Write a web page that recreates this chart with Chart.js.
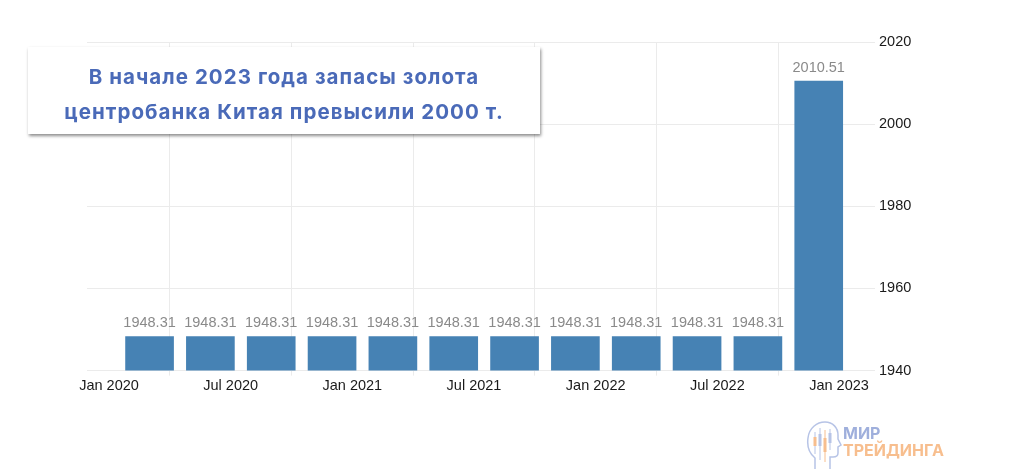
<!DOCTYPE html>
<html lang="ru">
<head>
<meta charset="utf-8">
<title>Запасы золота ЦБ Китая</title>
<script src="https://cdn.jsdelivr.net/npm/chart.js@4/dist/chart.umd.min.js"></script>
<style>
  html, body { margin: 0; padding: 0; background: #fff; }
  #wrap { position: relative; width: 1024px; height: 473px; overflow: hidden; }
  #c { position: absolute; left: 0; top: 0; }
  #note {
    position: absolute; left: 28px; top: 47px; width: 512px; height: 87px;
    box-sizing: border-box; padding-top: 7px;
    background: #fff; box-shadow: 1px 2px 3px rgba(0,0,0,0.45);
    color: #4a6ab8; font-family: Inter, "Open Sans", sans-serif; font-weight: 700;
    font-size: 20.5px; letter-spacing: 1.05px; line-height: 35px; text-align: center;
    display: flex; flex-direction: column; justify-content: center;
  }
  #logo { position: absolute; left: 806px; top: 420px; width: 170px; height: 50px; opacity: 0.75; }
  #logo .t1, #logo .t2 { position: absolute; left: 37px; font-family: Inter, "Open Sans", sans-serif; font-weight: 700; font-size: 16px; line-height: 16px; }
  #logo .t1 { top: 5px; color: #7f95d0; }
  #logo .t2 { top: 22px; color: #f5a868; }
</style>
</head>
<body>
<div id="wrap">
  <canvas id="c" width="1024" height="473"></canvas>
  <div id="note"><div>В начале 2023 года запасы золота</div><div>центробанка Китая превысили 2000 т.</div></div>
  <div id="logo">
    <svg width="36" height="50" viewBox="0 0 36 50" style="position:absolute;left:0;top:0">
      <path d="M9 49 L9 38 C3 33 1 25 2 18 C3 8 11 2 19 2 C27 2 32 8 32 15 L32 19 L35 25 L32 27 L32 33 C32 36 30 37 27 37 L24 37 L24 49" fill="none" stroke="#9fb0de" stroke-width="1.5"/>
      <g stroke-width="1">
        <line x1="9" y1="12" x2="9" y2="34" stroke="#9fb0de"/><rect x="7.5" y="17" width="3" height="9" fill="#f5a868"/>
        <line x1="14" y1="8" x2="14" y2="40" stroke="#9fb0de"/><rect x="12.5" y="14" width="3" height="12" fill="#9fb0de"/>
        <line x1="19" y1="10" x2="19" y2="42" stroke="#f5a868"/><rect x="17.5" y="18" width="3" height="14" fill="#f5a868"/>
        <line x1="24" y1="9" x2="24" y2="30" stroke="#9fb0de"/><rect x="22.5" y="13" width="3" height="10" fill="#9fb0de"/>
      </g>
    </svg>
    <div class="t1">МИР</div>
    <div class="t2">ТРЕЙДИНГА</div>
  </div>
</div>
<script>
// Data (month index counted from Jan 2020 = 0)
const BAR_MONTHS = [2, 5, 8, 11, 14, 17, 20, 23, 26, 29, 32, 35];
const RESERVES_T = [1948.31, 1948.31, 1948.31, 1948.31, 1948.31, 1948.31, 1948.31, 1948.31, 1948.31, 1948.31, 1948.31, 2010.51];
const TICK_MONTHS = [0, 6, 12, 18, 24, 30, 36];
const TICK_LABELS = ['Jan 2020', 'Jul 2020', 'Jan 2021', 'Jul 2021', 'Jan 2022', 'Jul 2022', 'Jan 2023'];
const Y_TICKS = [1940, 1960, 1980, 2000, 2020];

const points = BAR_MONTHS.map((m, i) => ({ x: m, y: RESERVES_T[i] }));
const FONT_FAMILY = '"Liberation Sans", Arial, sans-serif';

const valueLabels = {
  id: 'valueLabels',
  afterDatasetsDraw(chart) {
    const ctx = chart.ctx;
    const meta = chart.getDatasetMeta(0);
    ctx.save();
    ctx.font = '14.5px ' + FONT_FAMILY;
    ctx.fillStyle = '#8a8a8a';
    ctx.textAlign = 'center';
    ctx.textBaseline = 'alphabetic';
    meta.data.forEach((bar, i) => {
      ctx.fillText(RESERVES_T[i].toFixed(2), bar.x, bar.y - 9);
    });
    ctx.restore();
  }
};

new Chart(document.getElementById('c'), {
  type: 'bar',
  data: {
    datasets: [{
      data: points,
      backgroundColor: '#4682b4',
      borderWidth: 0,
      barThickness: 48
    }]
  },
  options: {
    responsive: false,
    devicePixelRatio: 1,
    animation: false,
    layout: { padding: { left: 87, top: 42, right: 0, bottom: 0 } },
    plugins: { legend: { display: false }, tooltip: { enabled: false } },
    scales: {
      x: {
        type: 'linear',
        min: -1.085,
        max: 37.775,
        offset: false,
        afterBuildTicks(scale) { scale.ticks = TICK_MONTHS.map(v => ({ value: v })); },
        afterFit(scale) { scale.height = 102.4; },
        ticks: {
          autoSkip: false,
          maxRotation: 0,
          padding: 2,
          color: '#1a1a1a',
          font: { family: FONT_FAMILY, size: 14.5 },
          callback: (v) => { const i = TICK_MONTHS.indexOf(v); return i >= 0 ? TICK_LABELS[i] : ''; }
        },
        grid: { color: '#ebebeb', tickLength: 5, drawTicks: true },
        border: { display: false }
      },
      y: {
        position: 'right',
        min: 1940,
        max: 2020,
        afterBuildTicks(scale) { scale.ticks = Y_TICKS.map(v => ({ value: v })); },
        afterFit(scale) { scale.width = 149; },
        ticks: {
          padding: 4,
          color: '#1a1a1a',
          font: { family: FONT_FAMILY, size: 14.5 },
          callback: (v) => String(v)
        },
        grid: { color: '#ebebeb', drawTicks: false },
        border: { display: false }
      }
    }
  },
  plugins: [valueLabels]
});
</script>
</body>
</html>
